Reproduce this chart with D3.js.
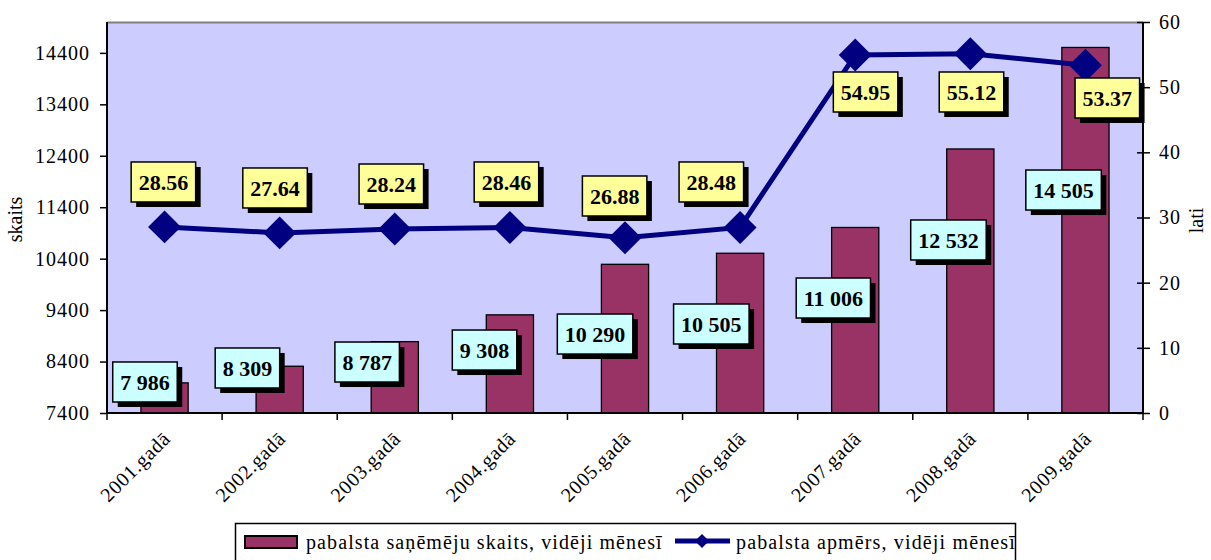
<!DOCTYPE html>
<html><head><meta charset="utf-8">
<script src="https://cdn.jsdelivr.net/npm/d3@7"></script>
<style>
body{margin:0;background:#fff;}
</style></head>
<body><svg id="c" width="1211" height="560" style="font-family:'Liberation Serif'"></svg>
<script>
const years = ["2001.gadā","2002.gadā","2003.gadā","2004.gadā","2005.gadā","2006.gadā","2007.gadā","2008.gadā","2009.gadā"];
const recipients = [7986, 8309, 8787, 9308, 10290, 10505, 11006, 12532, 14505];
const amounts = [28.56, 27.64, 28.24, 28.46, 26.88, 28.48, 54.95, 55.12, 53.37];
const leftTicks = [7400, 8400, 9400, 10400, 11400, 12400, 13400, 14400];
const rightTicks = [0, 10, 20, 30, 40, 50, 60];
const seriesNames = ["pabalsta saņēmēju skaits, vidēji mēnesī", "pabalsta apmērs, vidēji mēnesī"];
// label placement (annotation layout): anchor in axis units and shift as band fraction
const countLabelAt = [8003, 8275, 8391, 8624, 8935, 9130, 9635, 10763, 11734];
const countLabelShift = [-0.17, -0.28, -0.24, -0.22, -0.26, -0.25, -0.19, -0.19, -0.19];
const amountLabelAt = [35.45, 34.53, 35.14, 35.45, 33.3, 35.45, 49.26, 49.26, 48.34];
const amountLabelShift = [-0.01, -0.04, -0.03, -0.03, -0.09, -0.25, 0.09, 0.01, 0.19];

const FONT = "font-family:'Liberation Serif',serif";
const L = 107, R = 1143, T = 22, B = 413;
const svg = d3.select("#c");
const x = d3.scaleBand().domain(years).range([L, R]).paddingInner(0).paddingOuter(0);
const yL = d3.scaleLinear().domain([7400, 15000]).range([B, T]);
const yR = d3.scaleLinear().domain([0, 60]).range([B, T]);
const bw = x.bandwidth();
const barW = bw * 0.41;
const cx = d => x(d) + bw / 2;

// plot background
svg.append("rect").attr("x", L).attr("y", T).attr("width", R - L).attr("height", B - T).attr("fill", "#CCCCFF");
svg.append("line").attr("x1", L).attr("x2", R).attr("y1", T + 0.5).attr("y2", T + 0.5).attr("stroke", "#808080").attr("stroke-width", 2);

// bars
svg.append("g").selectAll("rect").data(recipients).join("rect")
  .attr("x", (d, i) => cx(years[i]) - barW / 2)
  .attr("y", d => yL(d))
  .attr("width", barW)
  .attr("height", d => B - yL(d))
  .attr("fill", "#993366").attr("stroke", "#000").attr("stroke-width", 1.3);

// line
const line = d3.line().x((d, i) => cx(years[i])).y(d => yR(d));
svg.append("path").datum(amounts).attr("d", line).attr("fill", "none").attr("stroke", "#000080").attr("stroke-width", 5);
svg.append("g").selectAll("path").data(amounts).join("path")
  .attr("d", d3.symbol().type(d3.symbolSquare).size(23.3 * 23.3))
  .attr("transform", (d, i) => `translate(${cx(years[i])},${yR(d)}) rotate(45)`)
  .attr("fill", "#000080");

// axes
const axL = svg.append("g").attr("transform", `translate(${L},0)`)
  .call(d3.axisLeft(yL).tickValues(leftTicks).tickSize(7).tickPadding(10).tickFormat(d3.format("d")));
const axR = svg.append("g").attr("transform", `translate(${R},0)`)
  .call(d3.axisRight(yR).tickValues(rightTicks).tickSize(7).tickPadding(9));
axR.selectAll(".tick line").attr("x1", -6);
const axB = svg.append("g").attr("transform", `translate(0,${B})`)
  .call(d3.axisBottom(x).tickSize(0).tickFormat(""));
[axL, axR, axB].forEach(a => {
  a.attr("font-family", null);
  a.select(".domain").attr("stroke", "#000").attr("stroke-width", 2);
  a.selectAll(".tick line").attr("stroke", "#000").attr("stroke-width", 1.5);
  a.selectAll(".tick text").attr("style", FONT).attr("font-size", 20).attr("fill", "#000").attr("letter-spacing", "1px");
});
axL.select(".domain").attr("d", `M0,${T}V${B}`);
axR.select(".domain").attr("d", `M0,${T}V${B}`);
axB.select(".domain").attr("d", `M${L},0H${R}`);
// category boundary ticks
const bounds = years.map(d => x(d)).concat([R]);
svg.append("g").selectAll("line").data(bounds).join("line")
  .attr("x1", d => d).attr("x2", d => d).attr("y1", B).attr("y2", B + 7)
  .attr("stroke", "#000").attr("stroke-width", 1.5);

// x labels
svg.append("g").selectAll("text").data(years).join("text")
  .attr("style", FONT)
  .attr("transform", d => `translate(${cx(d) + 7},${B + 27}) rotate(-45)`)
  .attr("text-anchor", "end").attr("font-size", 20).attr("fill", "#000").attr("letter-spacing", "0.7px")
  .text(d => d);

// axis titles
svg.append("text").attr("style", FONT).attr("transform", `translate(22,${(T + B) / 2 + 2}) rotate(-90)`)
  .attr("text-anchor", "middle").attr("font-size", 20).text("skaits");
svg.append("text").attr("style", FONT).attr("transform", `translate(1203,${(T + B) / 2 + 3}) rotate(-90)`)
  .attr("text-anchor", "middle").attr("font-size", 20).text("lati");

// data labels
function boxLabel(g, tx, ty, str, fill) {
  const grp = g.append("g");
  const sh = grp.append("rect");
  const bx = grp.append("rect");
  const t = grp.append("text").attr("style", FONT).attr("x", tx).attr("y", ty + 8).attr("text-anchor", "middle")
    .attr("font-size", 22).attr("font-weight", "bold").attr("fill", "#000").text(str);
  const w = t.node().getComputedTextLength() + 15, h = 40;
  sh.attr("x", tx - w / 2 + 5).attr("y", ty - h / 2 + 5).attr("width", w).attr("height", h).attr("fill", "#000");
  bx.attr("x", tx - w / 2).attr("y", ty - h / 2).attr("width", w).attr("height", h)
    .attr("fill", fill).attr("stroke", "#000").attr("stroke-width", 1.5);
}
const fmt = v => String(v).replace(/\B(?=(\d{3})+(?!\d))/g, " ");
const lg = svg.append("g");
recipients.forEach((v, i) => boxLabel(lg, cx(years[i]) + countLabelShift[i] * bw, yL(countLabelAt[i]), fmt(v), "#CCFFFF"));
amounts.forEach((v, i) => boxLabel(lg, cx(years[i]) + amountLabelShift[i] * bw, yR(amountLabelAt[i]), v.toFixed(2), "#FFFF99"));

// legend
const leg = svg.append("g");
leg.append("rect").attr("x", 235.5).attr("y", 523.5).attr("width", 780).attr("height", 45).attr("fill", "#fff").attr("stroke", "#000").attr("stroke-width", 1.5);
leg.append("rect").attr("x", 245).attr("y", 536).attr("width", 52).attr("height", 12).attr("fill", "#993366").attr("stroke", "#000").attr("stroke-width", 2);
leg.append("text").attr("style", FONT).attr("x", 306).attr("y", 549).attr("font-size", 20).attr("letter-spacing", "1.1px").text(seriesNames[0]);
leg.append("line").attr("x1", 675).attr("x2", 730).attr("y1", 541).attr("y2", 541).attr("stroke", "#000080").attr("stroke-width", 5);
leg.append("path").attr("d", d3.symbol().type(d3.symbolSquare).size(10 * 10)).attr("transform", "translate(702,541) rotate(45)").attr("fill", "#000080");
leg.append("text").attr("style", FONT).attr("x", 736).attr("y", 549).attr("font-size", 20).attr("letter-spacing", "1.15px").text(seriesNames[1]);
</script></body></html>
